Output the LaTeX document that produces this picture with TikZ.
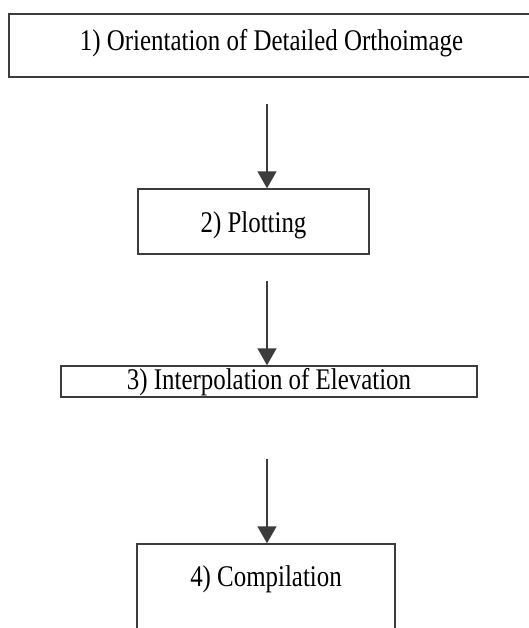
\documentclass[tikz,border=0pt]{standalone}
\usepackage{fontspec}
\setmainfont{Liberation Serif}
\usepackage{graphicx}
\usetikzlibrary{arrows.meta}

\definecolor{boxline}{HTML}{3C3C3C}
\newcommand{\steplabel}[1]{\scalebox{0.83}[1]{\fontsize{30}{32}\selectfont #1}}

\tikzset{
  stepbox/.style={draw=boxline, line width=1.4pt, fill=white, rectangle, inner sep=0pt},
  flow/.style={draw=boxline, line width=1.5pt, -{Triangle[length=17pt,width=19pt]}}
}

\begin{document}
\begin{tikzpicture}[x=1pt,y=-1pt]
  \useasboundingbox (0,0) rectangle (529,628);
  \clip (0,0) rectangle (529,628);
  \coordinate (axis) at (267,0);
  % boxes of the work flow
  \node[stepbox, minimum width=525pt, minimum height=63pt] (step1) at (271.5,45.5) {};
  \node[stepbox, minimum width=231pt, minimum height=65pt] (step2) at (253.5,221.5) {};
  \node[stepbox, minimum width=416pt, minimum height=31pt] (step3) at (269,381.5) {};
  \node[stepbox, minimum width=258pt, minimum height=140pt] (step4) at (266,614) {};
  % texts, set on their base lines
  \node[anchor=base] (text1) at (271.5,51) {\steplabel{1) Orientation of Detailed Orthoimage}};
  \node[anchor=base] (text2) at (253.5,232) {\steplabel{2) Plotting}};
  \node[anchor=base] (text3) at (269,389) {\steplabel{3) Interpolation of Elevation}};
  \node[anchor=base] (text4) at (266,586) {\steplabel{4) Compilation}};
  % arrows
  \draw[flow] ([yshift=-26pt]step1.south -| axis) -- (step2.north -| axis);
  \draw[flow] ([yshift=-26pt]step2.south -| axis) -- (step3.north -| axis);
  \draw[flow] ([yshift=-61pt]step3.south -| axis) -- (step4.north -| axis);
\end{tikzpicture}
\end{document}
